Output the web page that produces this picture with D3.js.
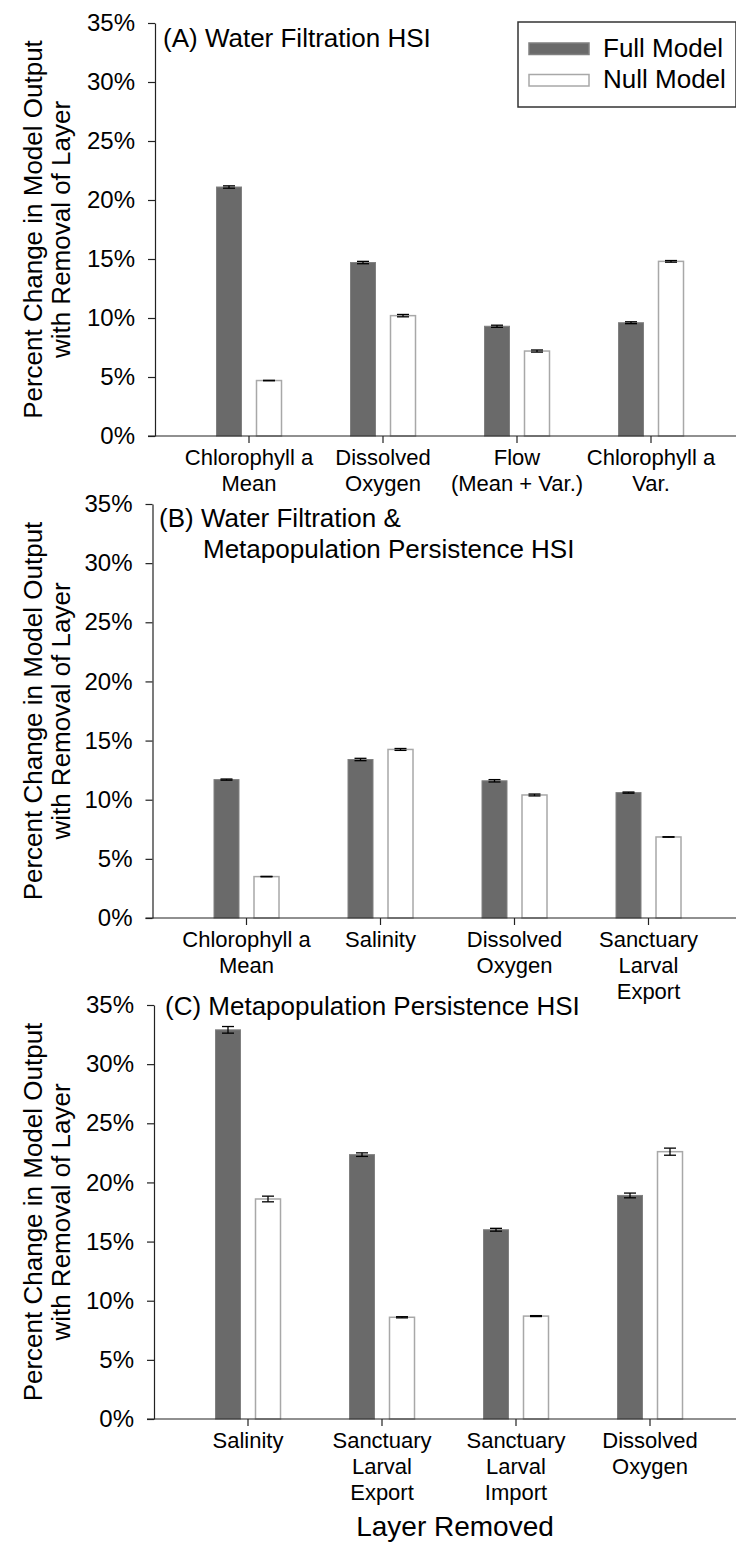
<!DOCTYPE html>
<html lang="en">
<head>
  <meta charset="UTF-8">
  <script src="https://cdn.jsdelivr.net/npm/d3@7"></script>
  <title>Percent change by layer removed</title>
  <style>
    body { margin: 0; background: #fff; }
    svg text { font-family: "Liberation Sans", Arial, sans-serif; fill: #000; }
  </style>
</head>
<body>
  <svg width="736" height="1543" id="chart"></svg>
  <script>
  // ---- data (percent change) ----
  const seriesNames = ["Full Model", "Null Model"];
  const yTicks = [0, 5, 10, 15, 20, 25, 30, 35];

  const catsA = ["Chlorophyll a\nMean", "Dissolved\nOxygen", "Flow\n(Mean + Var.)", "Chlorophyll a\nVar."];
  const fullA = [21.1, 14.7, 9.3, 9.6];
  const nullA = [4.7, 10.2, 7.2, 14.8];
  const fullErrA = [0.1, 0.1, 0.09, 0.08];
  const nullErrA = [0.02, 0.1, 0.09, 0.07];

  const catsB = ["Chlorophyll a\nMean", "Salinity", "Dissolved\nOxygen", "Sanctuary\nLarval\nExport"];
  const fullB = [11.7, 13.4, 11.6, 10.6];
  const nullB = [3.5, 14.25, 10.4, 6.85];
  const fullErrB = [0.05, 0.1, 0.1, 0.05];
  const nullErrB = [0.02, 0.08, 0.08, 0.02];

  const catsC = ["Salinity", "Sanctuary\nLarval\nExport", "Sanctuary\nLarval\nImport", "Dissolved\nOxygen"];
  const fullC = [32.9, 22.35, 16.0, 18.9];
  const nullC = [18.6, 8.6, 8.7, 22.6];
  const fullErrC = [0.28, 0.15, 0.12, 0.2];
  const nullErrC = [0.24, 0.05, 0.04, 0.3];

  const fillFull = "#6a6a6a", strokeFull = "#808080";
  const fillNull = "#ffffff", strokeNull = "#a8a8a8";
  const axisColor = "#222";

  let svg = d3.select("#chart");

  // panel layout
  let panels = [
    {cats: catsA, full: fullA, nul: nullA, fe: fullErrA, ne: nullErrA, top: 23, bottom: 436, left: 155,
     title: [{t: "(A) Water Filtration HSI", x: 163, y: 47}]},
    {cats: catsB, full: fullB, nul: nullB, fe: fullErrB, ne: nullErrB, top: 504, bottom: 918, left: 152.5,
     title: [{t: "(B) Water Filtration &", x: 159, y: 527}, {t: "Metapopulation Persistence HSI", x: 203, y: 558}]},
    {cats: catsC, full: fullC, nul: nullC, fe: fullErrC, ne: nullErrC, top: 1005, bottom: 1419, left: 154,
     title: [{t: "(C) Metapopulation Persistence HSI", x: 165, y: 1015}]}
  ];

  panels.forEach(p => {
    let g = svg.append("g");

    let y = d3.scaleLinear().domain([0, 35]).range([p.bottom, p.top]);
    let x0 = d3.scaleBand().domain(p.cats).range([p.left + 27, p.left + 563]).padding(0);
    let x1 = d3.scaleBand().domain(seriesNames).range([-32.5, 32.5]).paddingInner(0.375);

    let rows = p.cats.map((c, i) => ({cat: c, vals: [
      {s: "Full Model", v: p.full[i], e: p.fe[i]},
      {s: "Null Model", v: p.nul[i], e: p.ne[i]}
    ]}));

    // bars
    let groups = g.selectAll(".cat").data(rows).enter().append("g")
      .attr("transform", d => "translate(" + (x0(d.cat) + x0.bandwidth() / 2) + ",0)");

    groups.selectAll("rect").data(d => d.vals).enter().append("rect")
      .attr("x", d => x1(d.s))
      .attr("width", x1.bandwidth())
      .attr("y", d => y(d.v))
      .attr("height", d => y(0) - y(d.v))
      .attr("fill", d => d.s == "Full Model" ? fillFull : fillNull)
      .attr("stroke", d => d.s == "Full Model" ? strokeFull : strokeNull)
      .attr("stroke-width", d => d.s == "Full Model" ? 1 : 1.5);

    // error bars
    let eb = groups.selectAll(".err").data(d => d.vals).enter().append("g")
      .attr("stroke", "#000").attr("stroke-width", 1.3);
    let cx = d => x1(d.s) + x1.bandwidth() / 2;
    eb.append("line").attr("x1", cx).attr("x2", cx)
      .attr("y1", d => y(d.v + d.e)).attr("y2", d => y(d.v - d.e));
    eb.append("line").attr("x1", d => cx(d) - 6).attr("x2", d => cx(d) + 6)
      .attr("y1", d => y(d.v + d.e)).attr("y2", d => y(d.v + d.e));
    eb.append("line").attr("x1", d => cx(d) - 6).attr("x2", d => cx(d) + 6)
      .attr("y1", d => y(d.v - d.e)).attr("y2", d => y(d.v - d.e));

    // y axis
    let axisY = d3.axisLeft(y).tickValues(yTicks).tickFormat(d => d + "%")
      .tickSizeInner(7).tickSizeOuter(0).tickPadding(13);
    let ya = g.append("g").attr("transform", "translate(" + p.left + ",0)").call(axisY);
    ya.selectAll("text").style("font-size", "24px");
    ya.selectAll("line, path").attr("stroke", axisColor).attr("stroke-width", 1.2);

    // x axis
    let axisX = d3.axisBottom(x0).tickSizeInner(7).tickSizeOuter(0);
    let xa = g.append("g").attr("transform", "translate(0," + p.bottom + ")").call(axisX);
    xa.select(".domain").remove();
    xa.selectAll("line").attr("stroke", axisColor).attr("stroke-width", 1.2);
    xa.selectAll(".tick text").each(function(d) {
      let t = d3.select(this).text(null).attr("y", null).attr("dy", null).style("font-size", "22px");
      d.split("\n").forEach((line, i) => {
        t.append("tspan").attr("x", 0).attr("y", 29 + i * 26).text(line);
      });
    });
    g.append("line")
      .attr("x1", p.left - 7).attr("x2", 736)
      .attr("y1", p.bottom).attr("y2", p.bottom)
      .attr("stroke", axisColor).attr("stroke-width", 1.2);

    // y title
    let yt = g.append("text")
      .attr("transform", "translate(0," + (p.top + p.bottom) / 2 + ") rotate(-90)")
      .attr("text-anchor", "middle")
      .style("font-size", "26px");
    yt.append("tspan").attr("x", 0).attr("y", 42).text("Percent Change in Model Output");
    yt.append("tspan").attr("x", 0).attr("y", 70).text("with Removal of Layer");

    // panel title
    p.title.forEach(t => {
      g.append("text").attr("x", t.x).attr("y", t.y).style("font-size", "26px").text(t.t);
    });
  });

  // legend (panel A)
  let legend = svg.append("g");
  legend.append("rect").attr("x", 518).attr("y", 22).attr("width", 218).attr("height", 85)
    .attr("fill", "#fff").attr("stroke", "#333").attr("stroke-width", 1.5);
  seriesNames.forEach((s, i) => {
    legend.append("rect").attr("x", 529).attr("y", 43 + i * 31.5).attr("width", 60).attr("height", 11.5)
      .attr("fill", i == 0 ? fillFull : fillNull)
      .attr("stroke", i == 0 ? strokeFull : strokeNull).attr("stroke-width", 1.5);
    legend.append("text").attr("x", 603).attr("y", 57 + i * 31)
      .style("font-size", "26px").text(s);
  });

  // x axis title
  svg.append("text").attr("x", 455).attr("y", 1536).attr("text-anchor", "middle")
    .style("font-size", "28px").text("Layer Removed");
  </script>
</body>
</html>
